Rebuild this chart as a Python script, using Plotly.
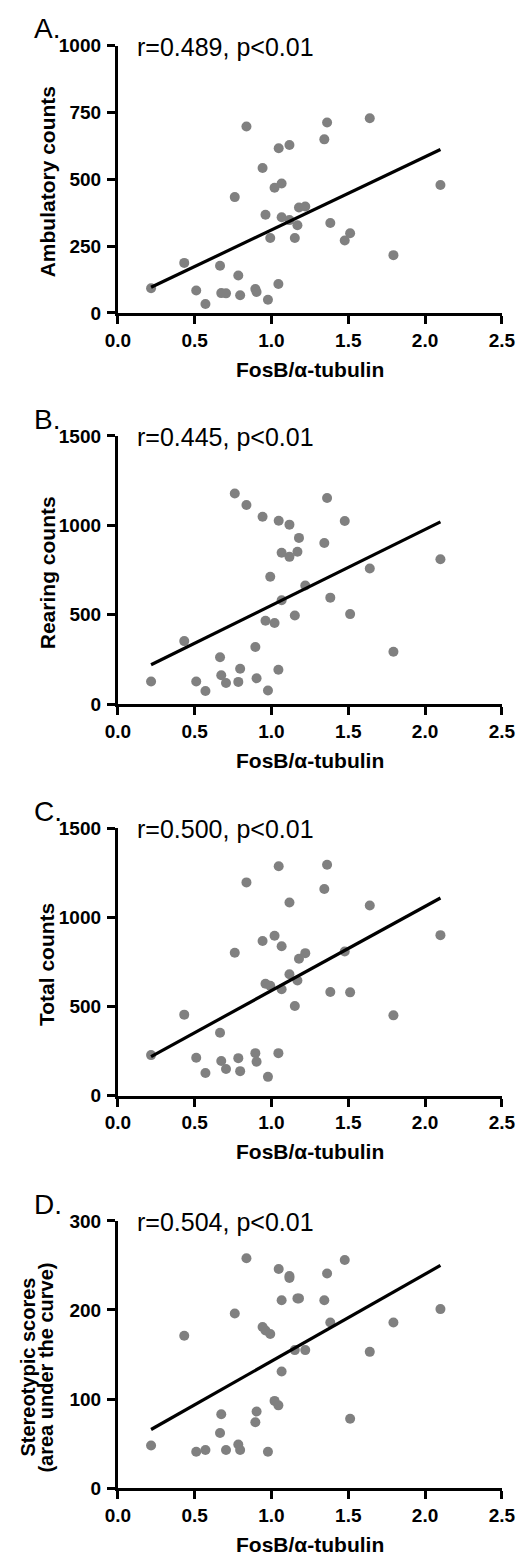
import numpy as np
import plotly.graph_objects as go

W, H = 532, 1568

# ---------------- data ----------------
fosb = [0.216, 0.432, 0.51, 0.57, 0.665, 0.673, 0.704, 0.761, 0.784, 0.796, 0.837, 0.895,
        0.903, 0.942, 0.961, 0.977, 0.992, 1.02, 1.045, 1.047, 1.066, 1.066, 1.117, 1.117,
        1.152, 1.169, 1.179, 1.22, 1.344, 1.362, 1.383, 1.477, 1.512, 1.64, 1.794, 2.10]

ambulatory = [92, 187, 84, 33, 176, 74, 73, 433, 140, 66, 697, 89, 78, 542, 367, 49, 280, 468,
              108, 616, 484, 358, 628, 347, 280, 328, 394, 398, 649, 712, 336, 271, 298, 728, 216, 478]

rearing = [127, 353, 127, 74, 263, 162, 119, 1178, 125, 199, 1114, 320, 145, 1048, 467, 77, 713, 454,
           193, 1026, 581, 847, 1004, 824, 496, 853, 930, 664, 901, 1153, 596, 1024, 504, 759, 294, 811]

total = [227, 454, 212, 127, 352, 194, 149, 801, 210, 137, 1196, 238, 190, 867, 627, 105, 616, 897,
         238, 1286, 838, 596, 1083, 681, 502, 646, 768, 799, 1159, 1295, 581, 808, 579, 1066, 450, 900]

stereotypic = [48, 171, 41, 43, 62, 83, 43, 196, 49, 43, 258, 74, 86, 181, 177, 41, 173, 98,
               93, 246, 211, 131, 238, 236, 155, 213, 213, 155, 211, 241, 186, 256, 78, 153, 186, 201]

panel_letters = ["A.", "B.", "C.", "D."]
stats_text = ["r=0.489, p<0.01", "r=0.445, p<0.01", "r=0.500, p<0.01", "r=0.504, p<0.01"]
y_titles = [["Ambulatory counts"], ["Rearing counts"], ["Total counts"],
            ["Stereotypic scores", "(area under the curve)"]]
y_ranges = [[0, 1000], [0, 1500], [0, 1500], [0, 300]]
y_tickvals = [[0, 250, 500, 750, 1000], [0, 500, 1000, 1500], [0, 500, 1000, 1500], [0, 100, 200, 300]]
x_tickvals = [0.0, 0.5, 1.0, 1.5, 2.0, 2.5]
x_ticktext = ["0.0", "0.5", "1.0", "1.5", "2.0", "2.5"]
x_title = "FosB/α-tubulin"

series = [ambulatory, rearing, total, stereotypic]

# ---------------- layout geometry (pixels) ----------------
plot_left, plot_right = 110.5, 515
panel_tops = [36, 431.7, 829.3, 1227.3]
panel_bottoms = [307, 703.7, 1100.3, 1498.3]

def px(x):
    return x / W

def py(y):
    return 1 - y / H

def b(s):
    return "<b>" + s + "</b>"

FONT = "Liberation Sans, Arial, sans-serif"
GRAY = "#808080"

fig = go.Figure()
annotations = []
layout_axes = {}

for i in range(4):
    n = "" if i == 0 else str(i + 1)
    xa, ya = "x" + n, "y" + n
    yv = series[i]

    fig.add_trace(go.Scatter(x=fosb, y=yv, mode="markers", xaxis=xa, yaxis=ya,
                             marker=dict(size=10, color=GRAY, line=dict(width=0)),
                             cliponaxis=False, showlegend=False, hoverinfo="skip"))
    slope, intercept = np.polyfit(fosb, yv, 1)
    xl = [min(fosb), max(fosb)]
    yl = [slope * v + intercept for v in xl]
    fig.add_trace(go.Scatter(x=xl, y=yl, mode="lines", xaxis=xa, yaxis=ya,
                             line=dict(color="black", width=3.2),
                             showlegend=False, hoverinfo="skip"))

    layout_axes["xaxis" + n] = dict(
        domain=[px(plot_left), px(plot_right)], anchor=ya, range=[0, 2.5],
        tickvals=x_tickvals, ticktext=[b(t) for t in x_ticktext],
        ticks="outside", ticklen=8, tickwidth=3,
        tickcolor="black", showline=True, linewidth=3, linecolor="black",
        showgrid=False, zeroline=False,
        tickfont=dict(family=FONT, size=19, color="black"))
    layout_axes["yaxis" + n] = dict(
        domain=[py(panel_bottoms[i]), py(panel_tops[i])], anchor=xa, range=y_ranges[i],
        tickvals=y_tickvals[i], ticktext=[b(str(v)) for v in y_tickvals[i]],
        ticks="outside", ticklen=8, tickwidth=3,
        tickcolor="black", showline=True, linewidth=3, linecolor="black",
        showgrid=False, zeroline=False, ticklabelstandoff=2,
        tickfont=dict(family=FONT, size=19, color="black"))

    # panel letter
    annotations.append(dict(text=panel_letters[i], xref="paper", yref="paper",
                            x=px(20), y=py(panel_tops[i] - 17), xanchor="left", yanchor="middle",
                            showarrow=False, font=dict(family=FONT, size=28, color="black")))
    # statistics
    annotations.append(dict(text=stats_text[i], xref="paper", yref="paper",
                            x=px(129), y=py(panel_tops[i] + 1), xanchor="left", yanchor="middle",
                            showarrow=False, font=dict(family=FONT, size=25, color="black")))
    # x title
    annotations.append(dict(text=b(x_title), xref="paper", yref="paper",
                            x=px((plot_left + plot_right) / 2), y=py(panel_bottoms[i] + 57),
                            xanchor="center", yanchor="middle", showarrow=False,
                            font=dict(family=FONT, size=21, color="black")))
    # y title(s)
    mid = (panel_tops[i] + panel_bottoms[i]) / 2 + 3
    if len(y_titles[i]) == 1:
        annotations.append(dict(text=b(y_titles[i][0]), xref="paper", yref="paper",
                                x=px(36), y=py(mid), xanchor="center", yanchor="middle",
                                textangle=-90, showarrow=False,
                                font=dict(family=FONT, size=21, color="black")))
    else:
        for j, t in enumerate(y_titles[i]):
            annotations.append(dict(text=b(t), xref="paper", yref="paper",
                                    x=px(16 + 19 * j), y=py(mid + 10), xanchor="center",
                                    yanchor="middle", textangle=-90, showarrow=False,
                                    font=dict(family=FONT, size=20, color="black")))

fig.update_layout(
    width=W, height=H, margin=dict(l=0, r=0, t=0, b=0),
    paper_bgcolor="white", plot_bgcolor="white",
    annotations=annotations, showlegend=False,
    **layout_axes)

fig.write_html("out.html")
